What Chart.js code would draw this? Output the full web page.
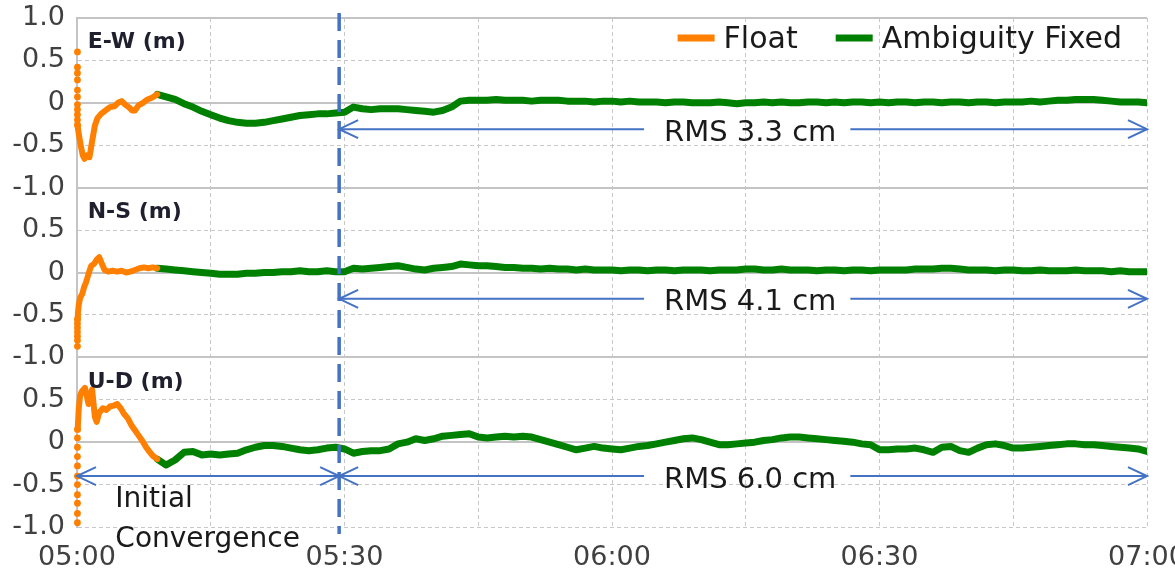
<!DOCTYPE html>
<html>
<head>
<meta charset="utf-8">
<script src="https://cdn.jsdelivr.net/npm/chart.js@4.4.1/dist/chart.umd.min.js"></script>
<style>
  html, body { margin: 0; padding: 0; background: #fff; }
  #wrap { width: 1175px; height: 577px; }
</style>
</head>
<body>
<div id="wrap"><canvas id="chart"></canvas></div>
<script>
// Minutes after 05:00 for the x axis
const xTickLabels = ['05:00', '05:30', '06:00', '06:30', '07:00'];
const yTickValues = [-1, -0.5, 0, 0.5, 1];
const yTickLabels = ['-1.0', '-0.5', '0', '0.5', '1.0'];

const panelTitles = ['E-W (m)', 'N-S (m)', 'U-D (m)'];
const rmsLabels = ['RMS 3.3 cm', 'RMS 4.1 cm', 'RMS 6.0 cm'];
const rmsLevels = [-0.31, -0.31, -0.4];
const convergenceLabel = ['Initial', 'Convergence'];
const convergenceEnd = 29.4; // end of initial convergence, minutes

// Float solution (first epochs are a vertical column of scattered dots)
const floatColumnCounts = [11, 7, 11];

const ewFloatMinutes = [0.05, 0.05, 0.05, 0.05, 0.05, 0.05, 0.05, 0.05, 0.05, 0.05, 0.05,
  0.1, 0.25, 0.45, 0.65, 0.85, 1.1, 1.4, 1.7, 2.0, 2.3, 2.7, 3.2, 3.7, 4.2, 4.6, 5.0, 5.4, 5.8, 6.2, 6.5, 6.9, 7.4, 7.9, 8.4, 9.0];
const ewFloatValues = [0.6, 0.42, 0.35, 0.27, 0.15, 0.07, -0.02, -0.08, -0.14, -0.2, -0.26,
  -0.3, -0.4, -0.52, -0.62, -0.66, -0.62, -0.64, -0.45, -0.27, -0.18, -0.13, -0.09, -0.05, -0.04, 0.0, 0.02, -0.02, -0.05, -0.09, -0.09, -0.03, 0.0, 0.04, 0.06, 0.10];

const nsFloatMinutes = [0.05, 0.05, 0.05, 0.05, 0.05, 0.05, 0.05,
  0.1, 0.2, 0.35, 0.6, 0.8, 1.0, 1.2, 1.4, 1.6, 1.9, 2.2, 2.5, 2.8, 3.1, 3.5, 4.0, 4.5, 5.0, 5.5, 6.0, 6.5, 7.0, 7.5, 8.0, 8.5, 9.0];
const nsFloatValues = [-0.87, -0.8, -0.75, -0.7, -0.65, -0.6, -0.55,
  -0.48, -0.38, -0.3, -0.25, -0.17, -0.12, -0.05, 0.02, 0.08, 0.1, 0.15, 0.18, 0.1, 0.03, 0.01, 0.02, 0.01, 0.02, 0.0, 0.01, 0.03, 0.05, 0.06, 0.05, 0.06, 0.05];

const udFloatMinutes = [0.05, 0.05, 0.05, 0.05, 0.05, 0.05, 0.05, 0.05, 0.05, 0.05, 0.05,
  0.1, 0.2, 0.35, 0.55, 0.9, 1.3, 1.7, 2.0, 2.2, 2.5, 2.9, 3.3, 3.7, 4.1, 4.5, 4.9, 5.3, 5.7, 6.1, 6.5, 6.9, 7.3, 7.7, 8.1, 8.5, 9.0];
const udFloatValues = [-0.95, -0.84, -0.72, -0.62, -0.5, -0.4, -0.28, -0.17, -0.06, 0.05, 0.15,
  0.2, 0.4, 0.55, 0.6, 0.64, 0.45, 0.62, 0.3, 0.24, 0.35, 0.4, 0.38, 0.42, 0.43, 0.45, 0.4, 0.33, 0.28, 0.2, 0.14, 0.08, 0.02, -0.05, -0.11, -0.16, -0.2];

// Ambiguity fixed solution, one value per minute from 05:09 to 07:00
const fixedMinutes = [9, 10, 11, 12, 13, 14, 15, 16, 17, 18, 19, 20, 21, 22, 23, 24, 25, 26, 27, 28,
  29, 30, 31, 32, 33, 34, 35, 36, 37, 38, 39, 40, 41, 42, 43, 44, 45, 46, 47, 48,
  49, 50, 51, 52, 53, 54, 55, 56, 57, 58, 59, 60, 61, 62, 63, 64, 65, 66, 67, 68,
  69, 70, 71, 72, 73, 74, 75, 76, 77, 78, 79, 80, 81, 82, 83, 84, 85, 86, 87, 88,
  89, 90, 91, 92, 93, 94, 95, 96, 97, 98, 99, 100, 101, 102, 103, 104, 105, 106, 107, 108,
  109, 110, 111, 112, 113, 114, 115, 116, 117, 118, 119, 120];

const ewFixedValues = [
  0.10, 0.07, 0.04, -0.01, -0.05, -0.10, -0.14, -0.18, -0.21, -0.23,
  -0.24, -0.24, -0.23, -0.21, -0.19, -0.17, -0.15, -0.14, -0.13, -0.13,
  -0.12, -0.11, -0.05, -0.07, -0.08, -0.07, -0.07, -0.07, -0.08, -0.09,
  -0.10, -0.11, -0.09, -0.05, 0.02, 0.03, 0.03, 0.03, 0.04, 0.03,
  0.03, 0.03, 0.02, 0.03, 0.03, 0.03, 0.02, 0.02, 0.02, 0.01,
  0.02, 0.02, 0.01, 0.02, 0.01, 0.01, 0.01, 0.00, 0.01, 0.01,
  0.00, 0.00, 0.00, 0.01, 0.00, -0.01, 0.00, 0.00, 0.01, 0.00,
  0.01, 0.00, 0.00, 0.01, 0.01, 0.00, 0.01, 0.00, 0.01, 0.01,
  0.00, 0.01, 0.00, 0.01, 0.01, 0.00, 0.01, 0.01, 0.00, 0.01,
  0.01, 0.00, 0.01, 0.01, 0.00, 0.01, 0.01, 0.01, 0.02, 0.01,
  0.02, 0.03, 0.03, 0.04, 0.04, 0.04, 0.03, 0.02, 0.01, 0.01,
  0.01, 0.00];

const nsFixedValues = [
  0.05, 0.04, 0.03, 0.02, 0.01, 0.00, -0.01, -0.02, -0.02, -0.02,
  -0.01, -0.01, 0.00, 0.00, 0.01, 0.01, 0.02, 0.01, 0.01, 0.02,
  0.01, 0.01, 0.05, 0.04, 0.05, 0.06, 0.07, 0.08, 0.06, 0.04,
  0.03, 0.05, 0.06, 0.07, 0.10, 0.09, 0.08, 0.08, 0.07, 0.06,
  0.06, 0.05, 0.05, 0.04, 0.05, 0.04, 0.04, 0.03, 0.04, 0.03,
  0.03, 0.03, 0.02, 0.03, 0.03, 0.02, 0.03, 0.03, 0.02, 0.03,
  0.03, 0.03, 0.02, 0.03, 0.03, 0.03, 0.04, 0.04, 0.03, 0.03,
  0.04, 0.03, 0.03, 0.03, 0.02, 0.03, 0.03, 0.02, 0.03, 0.03,
  0.02, 0.03, 0.03, 0.03, 0.03, 0.04, 0.04, 0.04, 0.05, 0.05,
  0.04, 0.03, 0.03, 0.03, 0.02, 0.03, 0.03, 0.02, 0.02, 0.03,
  0.02, 0.02, 0.02, 0.03, 0.02, 0.02, 0.02, 0.01, 0.02, 0.01,
  0.01, 0.01];

const udFixedValues = [
  -0.20, -0.27, -0.21, -0.12, -0.11, -0.15, -0.14, -0.15, -0.14, -0.13,
  -0.09, -0.06, -0.04, -0.04, -0.05, -0.07, -0.09, -0.10, -0.09, -0.07,
  -0.06, -0.08, -0.13, -0.11, -0.10, -0.10, -0.08, -0.02, 0.00, 0.04,
  0.02, 0.04, 0.07, 0.08, 0.09, 0.10, 0.06, 0.05, 0.06, 0.07,
  0.06, 0.07, 0.06, 0.03, 0.00, -0.03, -0.06, -0.09, -0.07, -0.05,
  -0.07, -0.08, -0.09, -0.07, -0.05, -0.04, -0.02, 0.00, 0.02, 0.04,
  0.05, 0.03, 0.00, -0.03, -0.03, -0.02, -0.01, 0.00, 0.02, 0.03,
  0.05, 0.06, 0.06, 0.05, 0.04, 0.03, 0.02, 0.01, 0.00, -0.02,
  -0.03, -0.09, -0.09, -0.08, -0.08, -0.07, -0.09, -0.12, -0.06, -0.05,
  -0.10, -0.12, -0.07, -0.03, -0.02, -0.04, -0.07, -0.07, -0.06, -0.05,
  -0.04, -0.03, -0.02, -0.02, -0.03, -0.03, -0.04, -0.05, -0.06, -0.07,
  -0.08, -0.11];

const FONT = '"DejaVu Sans", sans-serif';
const floatColor = '#ff8000';
const fixedColor = '#008000';
const arrowColor = '#4472c4';
const gridSolid = '#c4c4c4';
const gridDashed = '#c8c8c8';

function zip(xs, ys) {
  return xs.map((x, i) => ({ x: x, y: ys[i] }));
}

const panels = [
  { axis: 'yEW', floatMinutes: ewFloatMinutes, floatValues: ewFloatValues, fixedValues: ewFixedValues },
  { axis: 'yNS', floatMinutes: nsFloatMinutes, floatValues: nsFloatValues, fixedValues: nsFixedValues },
  { axis: 'yUD', floatMinutes: udFloatMinutes, floatValues: udFloatValues, fixedValues: udFixedValues }
];

const datasets = [];
panels.forEach((p, i) => {
  const col = floatColumnCounts[i];
  datasets.push({
    label: 'Float',
    data: zip(p.floatMinutes, p.floatValues),
    yAxisID: p.axis,
    clip: false,
    borderColor: floatColor,
    backgroundColor: floatColor,
    borderWidth: 6,
    borderJoinStyle: 'round',
    borderCapStyle: 'round',
    pointRadius: ctx => ctx.dataIndex < col ? 3.4 : 0,
    pointBorderWidth: 0,
    pointBackgroundColor: floatColor,
    segment: {
      borderColor: ctx => ctx.p1DataIndex < col ? 'rgba(0,0,0,0)' : undefined
    }
  });
  datasets.push({
    label: 'Ambiguity Fixed',
    data: zip(fixedMinutes, p.fixedValues),
    yAxisID: p.axis,
    borderColor: fixedColor,
    backgroundColor: fixedColor,
    borderWidth: 7,
    borderJoinStyle: 'round',
    borderCapStyle: 'round',
    pointRadius: 0
  });
});

// One stacked y axis per component
function panelAxis(index) {
  const isBottom = index === panels.length - 1;
  const dashed = v => Math.abs(v) === 0.5 || (isBottom && v === -1);
  return {
    type: 'linear',
    position: 'left',
    stack: 'enu',
    stackWeight: 1,
    min: -1,
    max: 1,
    ticks: {
      stepSize: 0.5,
      autoSkip: false,
      padding: 12,
      color: '#404040',
      font: { family: FONT, size: 27 },
      callback: value => {
        if (index > 0 && value === 1) return '';
        return yTickLabels[yTickValues.indexOf(value)];
      }
    },
    grid: {
      drawTicks: false,
      color: ctx => (ctx.tick && dashed(ctx.tick.value)) ? gridDashed : gridSolid,
      lineWidth: ctx => (ctx.tick && dashed(ctx.tick.value)) ? 1 : 2
    },
    border: {
      color: gridSolid,
      width: 2,
      dash: ctx => (ctx.tick && dashed(ctx.tick.value)) ? [4, 3] : []
    },
    afterFit: axis => {
      axis.width = 77;
      axis.paddingTop = 0;
      axis.paddingBottom = 0;
    }
  };
}

// Arrows, labels and the convergence marker
const annotationPlugin = {
  id: 'annotations',
  afterDatasetsDraw(chart) {
    const { ctx, chartArea, scales } = chart;
    const x = scales.x;

    function head(px, py, dir) {
      ctx.beginPath();
      ctx.moveTo(px - dir * 19, py - 9);
      ctx.lineTo(px, py);
      ctx.lineTo(px - dir * 19, py + 9);
      ctx.stroke();
    }

    ctx.save();
    // vertical dashed line at end of convergence
    const cx = x.getPixelForValue(convergenceEnd);
    ctx.strokeStyle = arrowColor;
    ctx.lineWidth = 3.5;
    ctx.setLineDash([18, 9]);
    ctx.beginPath();
    ctx.moveTo(cx, chartArea.top - 5);
    ctx.lineTo(cx, chartArea.bottom + 7);
    ctx.stroke();
    ctx.setLineDash([]);

    ctx.lineWidth = 2;
    ctx.font = '29px ' + FONT;
    ctx.fillStyle = '#1a1a1a';
    ctx.textBaseline = 'middle';
    panels.forEach((p, i) => {
      const ys = scales[p.axis];
      const py = ys.getPixelForValue(rmsLevels[i]);
      const x0 = cx;
      const x1 = x.getPixelForValue(120);
      const mid = x.getPixelForValue(75.5);
      const w = ctx.measureText(rmsLabels[i]).width;
      ctx.beginPath();
      ctx.moveTo(x0, py);
      ctx.lineTo(mid - w / 2 - 20, py);
      ctx.moveTo(mid + w / 2 + 14, py);
      ctx.lineTo(x1, py);
      ctx.stroke();
      head(x0, py, -1);
      head(x1, py, 1);
      ctx.textAlign = 'center';
      ctx.fillText(rmsLabels[i], mid, py + 4);
    });

    // initial convergence arrow in the U-D panel
    const ud = scales.yUD;
    const iy = ud.getPixelForValue(rmsLevels[2]);
    const ix0 = x.getPixelForValue(0);
    ctx.beginPath();
    ctx.moveTo(ix0, iy);
    ctx.lineTo(cx, iy);
    ctx.stroke();
    head(ix0, iy, -1);
    head(cx, iy, 1);
    ctx.font = '28px ' + FONT;
    ctx.textAlign = 'left';
    ctx.fillText(convergenceLabel[0], x.getPixelForValue(4.3), ud.getPixelForValue(-0.68));
    ctx.fillText(convergenceLabel[1], x.getPixelForValue(4.3), ud.getPixelForValue(-1.15));

    // panel titles
    ctx.font = 'bold 22px ' + FONT;
    ctx.fillStyle = '#1f1f2e';
    panels.forEach((p, i) => {
      ctx.fillText(panelTitles[i], x.getPixelForValue(1.2), scales[p.axis].getPixelForValue(0.71));
    });
    ctx.restore();
  },
  afterDraw(chart) {
    // legend in the upper right of the plot
    const { ctx, chartArea } = chart;
    const items = chart.data.datasets.slice(0, 2);
    ctx.save();
    ctx.font = '30px ' + FONT;
    ctx.textBaseline = 'middle';
    ctx.textAlign = 'left';
    const cy = chartArea.top + 20;
    let right = chartArea.right - 25;
    for (let i = items.length - 1; i >= 0; i--) {
      const w = ctx.measureText(items[i].label).width;
      const tx = right - w;
      ctx.fillStyle = '#1a1a1a';
      ctx.fillText(items[i].label, tx, cy + 2);
      ctx.fillStyle = items[i].borderColor;
      ctx.fillRect(tx - 9 - 37, cy - 3.5, 37, 7);
      right = tx - 9 - 37 - 38;
    }
    ctx.restore();
  }
};

const scales = {
  x: {
    type: 'linear',
    min: 0,
    max: 120,
    ticks: {
      stepSize: 15,
      autoSkip: false,
      maxRotation: 0,
      padding: 15,
      color: '#404040',
      font: { family: FONT, size: 27 },
      callback: value => value % 30 === 0 ? xTickLabels[value / 30] : ''
    },
    grid: {
      drawTicks: false,
      color: ctx => (ctx.tick && ctx.tick.value === 0) ? 'rgba(0,0,0,0)' : gridDashed,
      lineWidth: 1
    },
    border: {
      display: false,
      dash: ctx => ctx.tick ? [4, 3] : []
    },
    afterFit: axis => {
      axis.height = 50;
      axis.paddingLeft = 0;
      axis.paddingRight = 0;
    }
  }
};
// stacked axes are laid out bottom-up, so add U-D first
for (let i = panels.length - 1; i >= 0; i--) {
  scales[panels[i].axis] = panelAxis(i);
}

new Chart(document.getElementById('chart'), {
  type: 'line',
  data: { datasets: datasets },
  options: {
    responsive: true,
    maintainAspectRatio: false,
    animation: false,
    devicePixelRatio: 1,
    layout: { padding: { top: 18, right: 28, left: 0, bottom: 0 } },
    elements: { line: { tension: 0 } },
    plugins: {
      legend: { display: false },
      tooltip: { enabled: false }
    },
    scales: scales
  },
  plugins: [annotationPlugin]
});
</script>
</body>
</html>
